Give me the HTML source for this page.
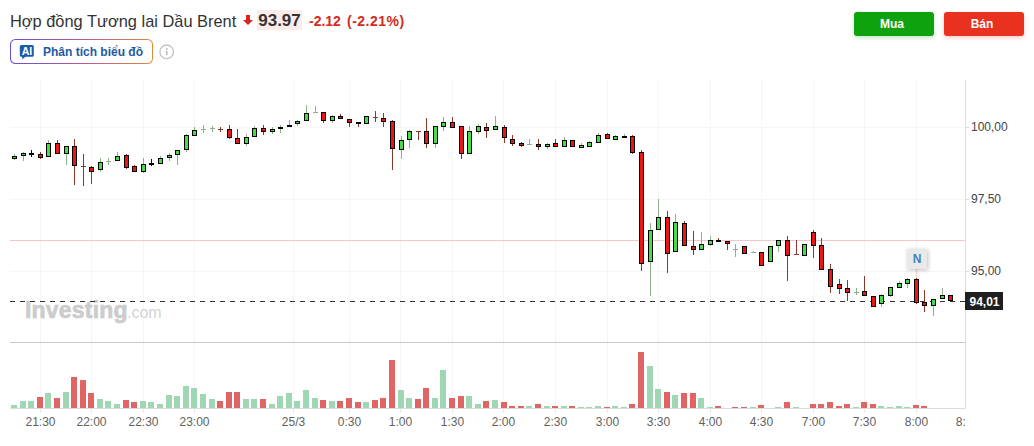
<!DOCTYPE html>
<html><head><meta charset="utf-8">
<style>
html,body{margin:0;padding:0;background:#fff;}
body{width:1034px;height:446px;position:relative;overflow:hidden;font-family:"Liberation Sans",sans-serif;}
.abs{position:absolute;white-space:nowrap;}
#title{left:10px;top:10px;font-size:16.4px;color:#333;line-height:22px;}
#arrow{left:243px;top:15px;}
#price{left:257px;top:10px;width:45px;height:20px;background:#fbebe9;font-weight:bold;font-size:17px;color:#333;line-height:21px;text-align:center;}
#chg{left:309px;top:11px;font-size:14px;color:#d22b20;line-height:20px;font-weight:bold;}
#pct{left:347px;top:11px;letter-spacing:0.5px;font-size:14px;color:#d22b20;line-height:20px;font-weight:bold;}
.btn{top:12px;width:80px;height:24px;border-radius:3px;color:#fff;font-weight:bold;font-size:12px;line-height:24px;text-align:center;box-sizing:border-box;padding-right:4px;}
#mua{left:854px;background:#0ea30e;box-shadow:0 2px 4px rgba(14,163,14,0.25);}
#ban{left:944px;background:#e8311e;box-shadow:0 2px 4px rgba(232,49,30,0.25);}
#ai{left:10px;top:39px;width:143px;height:25px;box-sizing:border-box;border-radius:5.5px;padding:1.2px;background:linear-gradient(90deg,#6152d4,#b85898 50%,#df8a3e);}
#ai .in{width:100%;height:100%;background:#fff;border-radius:4.5px;}
#aitxt{left:43px;top:44px;font-size:12px;font-weight:bold;color:#1d5aa3;line-height:16px;}
svg{position:absolute;left:0;top:0;}
</style></head><body>
<div id="title" class="abs">Hợp đồng Tương lai Dầu Brent</div>
<svg id="arrow" class="abs" width="10" height="10" viewBox="0 0 10 10" style="left:243px;top:15px;"><path d="M3 0H7V5H10L5 10L0 5H3Z" fill="#d8261c"/></svg>
<div id="price" class="abs">93.97</div>
<div id="chg" class="abs">-2.12</div>
<div id="pct" class="abs">(-2.21%)</div>
<div id="mua" class="abs btn">Mua</div>
<div id="ban" class="abs btn">Bán</div>
<div id="ai" class="abs"><div class="in"></div></div>
<svg class="abs" style="left:19px;top:45px" width="16" height="15" viewBox="0 0 16 15"><path d="M2.3 0H13.3Q14.8 0 14.8 1.5V10.3Q14.8 11.8 13.3 11.8H6.5L3.2 14.3V11.8H2.3Q0.8 11.8 0.8 10.3V1.5Q0.8 0 2.3 0Z" fill="#1b5ca8"/><text x="7.9" y="9.9" text-anchor="middle" font-family="Liberation Sans" font-weight="bold" font-size="10.5" fill="#fff">AI</text></svg>
<div id="aitxt" class="abs">Phân tích biểu đồ</div>
<svg class="abs" style="left:158px;top:43px" width="18" height="18" viewBox="0 0 18 18"><circle cx="8.7" cy="8.8" r="6.8" fill="none" stroke="#c4c4c4" stroke-width="1.3"/><rect x="7.9" y="7.9" width="1.7" height="4.3" fill="#bdbdbd"/><rect x="7.9" y="5.1" width="1.7" height="1.7" fill="#bdbdbd"/></svg>
<svg width="1034" height="446" viewBox="0 0 1034 446" style="left:0;top:0">
<line x1="40.5" y1="80" x2="40.5" y2="408" stroke="#f6f6f6" stroke-width="1"/>
<line x1="40.5" y1="408" x2="40.5" y2="413" stroke="#e6e6e6" stroke-width="1"/>
<line x1="91.5" y1="80" x2="91.5" y2="408" stroke="#f6f6f6" stroke-width="1"/>
<line x1="91.5" y1="408" x2="91.5" y2="413" stroke="#e6e6e6" stroke-width="1"/>
<line x1="143.5" y1="80" x2="143.5" y2="408" stroke="#f6f6f6" stroke-width="1"/>
<line x1="143.5" y1="408" x2="143.5" y2="413" stroke="#e6e6e6" stroke-width="1"/>
<line x1="194.5" y1="80" x2="194.5" y2="408" stroke="#f6f6f6" stroke-width="1"/>
<line x1="194.5" y1="408" x2="194.5" y2="413" stroke="#e6e6e6" stroke-width="1"/>
<line x1="293.5" y1="80" x2="293.5" y2="408" stroke="#f6f6f6" stroke-width="1"/>
<line x1="293.5" y1="408" x2="293.5" y2="413" stroke="#e6e6e6" stroke-width="1"/>
<line x1="349.5" y1="80" x2="349.5" y2="408" stroke="#f6f6f6" stroke-width="1"/>
<line x1="349.5" y1="408" x2="349.5" y2="413" stroke="#e6e6e6" stroke-width="1"/>
<line x1="400.5" y1="80" x2="400.5" y2="408" stroke="#f6f6f6" stroke-width="1"/>
<line x1="400.5" y1="408" x2="400.5" y2="413" stroke="#e6e6e6" stroke-width="1"/>
<line x1="452.5" y1="80" x2="452.5" y2="408" stroke="#f6f6f6" stroke-width="1"/>
<line x1="452.5" y1="408" x2="452.5" y2="413" stroke="#e6e6e6" stroke-width="1"/>
<line x1="503.5" y1="80" x2="503.5" y2="408" stroke="#f6f6f6" stroke-width="1"/>
<line x1="503.5" y1="408" x2="503.5" y2="413" stroke="#e6e6e6" stroke-width="1"/>
<line x1="555.5" y1="80" x2="555.5" y2="408" stroke="#f6f6f6" stroke-width="1"/>
<line x1="555.5" y1="408" x2="555.5" y2="413" stroke="#e6e6e6" stroke-width="1"/>
<line x1="607.5" y1="80" x2="607.5" y2="408" stroke="#f6f6f6" stroke-width="1"/>
<line x1="607.5" y1="408" x2="607.5" y2="413" stroke="#e6e6e6" stroke-width="1"/>
<line x1="658.5" y1="80" x2="658.5" y2="408" stroke="#f6f6f6" stroke-width="1"/>
<line x1="658.5" y1="408" x2="658.5" y2="413" stroke="#e6e6e6" stroke-width="1"/>
<line x1="710.5" y1="80" x2="710.5" y2="408" stroke="#f6f6f6" stroke-width="1"/>
<line x1="710.5" y1="408" x2="710.5" y2="413" stroke="#e6e6e6" stroke-width="1"/>
<line x1="761.5" y1="80" x2="761.5" y2="408" stroke="#f6f6f6" stroke-width="1"/>
<line x1="761.5" y1="408" x2="761.5" y2="413" stroke="#e6e6e6" stroke-width="1"/>
<line x1="813.5" y1="80" x2="813.5" y2="408" stroke="#f6f6f6" stroke-width="1"/>
<line x1="813.5" y1="408" x2="813.5" y2="413" stroke="#e6e6e6" stroke-width="1"/>
<line x1="864.5" y1="80" x2="864.5" y2="408" stroke="#f6f6f6" stroke-width="1"/>
<line x1="864.5" y1="408" x2="864.5" y2="413" stroke="#e6e6e6" stroke-width="1"/>
<line x1="916.5" y1="80" x2="916.5" y2="408" stroke="#f6f6f6" stroke-width="1"/>
<line x1="916.5" y1="408" x2="916.5" y2="413" stroke="#e6e6e6" stroke-width="1"/>
<line x1="10" y1="127.5" x2="965" y2="127.5" stroke="#f6f6f6" stroke-width="1"/>
<line x1="965" y1="127.5" x2="969" y2="127.5" stroke="#ddd" stroke-width="1"/>
<line x1="10" y1="199.5" x2="965" y2="199.5" stroke="#f6f6f6" stroke-width="1"/>
<line x1="965" y1="199.5" x2="969" y2="199.5" stroke="#ddd" stroke-width="1"/>
<line x1="10" y1="271.5" x2="965" y2="271.5" stroke="#f6f6f6" stroke-width="1"/>
<line x1="965" y1="271.5" x2="969" y2="271.5" stroke="#ddd" stroke-width="1"/>
<line x1="965.5" y1="80" x2="965.5" y2="408" stroke="#dcdcdc" stroke-width="1"/>
<line x1="10" y1="342.5" x2="966" y2="342.5" stroke="#c8c8c8" stroke-width="1"/>
<line x1="10" y1="408.5" x2="966" y2="408.5" stroke="#dcdcdc" stroke-width="1"/>
<line x1="10" y1="240.5" x2="965" y2="240.5" stroke="#f6c5ca" stroke-width="1"/>
<g font-family="Liberation Sans" font-weight="bold" font-size="23" fill="#cccccc" stroke="#cccccc" stroke-width="0.7"><text x="25" y="318" letter-spacing="0.2">Investing</text></g>
<text x="127" y="318" font-family="Liberation Sans" font-size="16" fill="#d4d4d4">.com</text>
<line x1="10" y1="301.5" x2="965" y2="301.5" stroke="#333" stroke-width="1" stroke-dasharray="5,5"/>
<rect x="11.0" y="405" width="6" height="3" fill="#9fd6b4"/>
<rect x="20.0" y="401" width="6" height="7" fill="#9fd6b4"/>
<rect x="28.0" y="401" width="6" height="7" fill="#9fd6b4"/>
<rect x="37.0" y="397" width="6" height="11" fill="#e06666"/>
<rect x="45.0" y="393" width="6" height="15" fill="#9fd6b4"/>
<rect x="54.0" y="398" width="6" height="10" fill="#e06666"/>
<rect x="63.0" y="392" width="6" height="16" fill="#9fd6b4"/>
<rect x="71.0" y="377" width="6" height="31" fill="#e06666"/>
<rect x="80.0" y="380" width="6" height="28" fill="#e06666"/>
<rect x="88.0" y="393" width="6" height="15" fill="#e06666"/>
<rect x="97.0" y="399" width="6" height="9" fill="#9fd6b4"/>
<rect x="105.0" y="401" width="6" height="7" fill="#9fd6b4"/>
<rect x="114.0" y="404" width="6" height="4" fill="#9fd6b4"/>
<rect x="123.0" y="400" width="6" height="8" fill="#e06666"/>
<rect x="131.0" y="402" width="6" height="6" fill="#e06666"/>
<rect x="140.0" y="401" width="6" height="7" fill="#9fd6b4"/>
<rect x="148.0" y="402" width="6" height="6" fill="#9fd6b4"/>
<rect x="157.0" y="404" width="6" height="4" fill="#9fd6b4"/>
<rect x="166.0" y="395" width="6" height="13" fill="#9fd6b4"/>
<rect x="174.0" y="396" width="6" height="12" fill="#9fd6b4"/>
<rect x="183.0" y="386" width="6" height="22" fill="#9fd6b4"/>
<rect x="191.0" y="388" width="6" height="20" fill="#9fd6b4"/>
<rect x="200.0" y="394" width="6" height="14" fill="#9fd6b4"/>
<rect x="209.0" y="399" width="6" height="9" fill="#9fd6b4"/>
<rect x="217.0" y="401" width="6" height="7" fill="#e06666"/>
<rect x="226.0" y="392" width="6" height="16" fill="#e06666"/>
<rect x="234.0" y="392" width="6" height="16" fill="#e06666"/>
<rect x="243.0" y="399" width="6" height="9" fill="#9fd6b4"/>
<rect x="251.0" y="399" width="6" height="9" fill="#9fd6b4"/>
<rect x="260.0" y="399" width="6" height="9" fill="#e06666"/>
<rect x="269.0" y="404" width="6" height="4" fill="#9fd6b4"/>
<rect x="277.0" y="396" width="6" height="12" fill="#9fd6b4"/>
<rect x="286.0" y="393" width="6" height="15" fill="#9fd6b4"/>
<rect x="294.0" y="401" width="6" height="7" fill="#9fd6b4"/>
<rect x="303.0" y="390" width="6" height="18" fill="#9fd6b4"/>
<rect x="312.0" y="398" width="6" height="10" fill="#9fd6b4"/>
<rect x="320.0" y="400" width="6" height="8" fill="#e06666"/>
<rect x="329.0" y="401" width="6" height="7" fill="#9fd6b4"/>
<rect x="337.0" y="401" width="6" height="7" fill="#e06666"/>
<rect x="346.0" y="398" width="6" height="10" fill="#e06666"/>
<rect x="355.0" y="402" width="6" height="6" fill="#e06666"/>
<rect x="363.0" y="402" width="6" height="6" fill="#9fd6b4"/>
<rect x="372.0" y="400" width="6" height="8" fill="#e06666"/>
<rect x="380.0" y="398" width="6" height="10" fill="#e06666"/>
<rect x="389.0" y="360" width="6" height="48" fill="#e06666"/>
<rect x="398.0" y="390" width="6" height="18" fill="#9fd6b4"/>
<rect x="406.0" y="398" width="6" height="10" fill="#9fd6b4"/>
<rect x="415.0" y="399" width="6" height="9" fill="#e06666"/>
<rect x="423.0" y="388" width="6" height="20" fill="#e06666"/>
<rect x="432.0" y="398" width="6" height="10" fill="#9fd6b4"/>
<rect x="440.0" y="370" width="6" height="38" fill="#9fd6b4"/>
<rect x="449.0" y="398" width="6" height="10" fill="#e06666"/>
<rect x="458.0" y="396" width="6" height="12" fill="#e06666"/>
<rect x="466.0" y="396" width="6" height="12" fill="#9fd6b4"/>
<rect x="475.0" y="404" width="6" height="4" fill="#9fd6b4"/>
<rect x="483.0" y="401" width="6" height="7" fill="#e06666"/>
<rect x="492.0" y="400" width="6" height="8" fill="#9fd6b4"/>
<rect x="501.0" y="402" width="6" height="6" fill="#e06666"/>
<rect x="509.0" y="406" width="6" height="2" fill="#e06666"/>
<rect x="518.0" y="406" width="6" height="2" fill="#e06666"/>
<rect x="526.0" y="406" width="6" height="2" fill="#9fd6b4"/>
<rect x="535.0" y="404" width="6" height="4" fill="#e06666"/>
<rect x="544.0" y="406" width="6" height="2" fill="#9fd6b4"/>
<rect x="552.0" y="406" width="6" height="2" fill="#e06666"/>
<rect x="561.0" y="406" width="6" height="2" fill="#9fd6b4"/>
<rect x="569.0" y="406" width="6" height="2" fill="#e06666"/>
<rect x="578.0" y="407" width="6" height="1" fill="#9fd6b4"/>
<rect x="586.0" y="407" width="6" height="1" fill="#9fd6b4"/>
<rect x="595.0" y="406" width="6" height="2" fill="#9fd6b4"/>
<rect x="604.0" y="407" width="6" height="1" fill="#e06666"/>
<rect x="612.0" y="406" width="6" height="2" fill="#9fd6b4"/>
<rect x="621.0" y="407" width="6" height="1" fill="#9fd6b4"/>
<rect x="629.0" y="404" width="6" height="4" fill="#e06666"/>
<rect x="638.0" y="352" width="6" height="56" fill="#e06666"/>
<rect x="647.0" y="366" width="6" height="42" fill="#9fd6b4"/>
<rect x="655.0" y="389" width="6" height="19" fill="#9fd6b4"/>
<rect x="664.0" y="392" width="6" height="16" fill="#e06666"/>
<rect x="672.0" y="395" width="6" height="13" fill="#9fd6b4"/>
<rect x="681.0" y="393" width="6" height="15" fill="#e06666"/>
<rect x="690.0" y="393" width="6" height="15" fill="#e06666"/>
<rect x="698.0" y="398" width="6" height="10" fill="#9fd6b4"/>
<rect x="707.0" y="407" width="6" height="1" fill="#9fd6b4"/>
<rect x="715.0" y="406" width="6" height="2" fill="#e06666"/>
<rect x="732.0" y="407" width="6" height="1" fill="#e06666"/>
<rect x="741.0" y="407" width="6" height="1" fill="#e06666"/>
<rect x="750.0" y="407" width="6" height="1" fill="#9fd6b4"/>
<rect x="758.0" y="405" width="6" height="3" fill="#e06666"/>
<rect x="775.0" y="407" width="6" height="1" fill="#9fd6b4"/>
<rect x="784.0" y="402" width="6" height="6" fill="#e06666"/>
<rect x="793.0" y="407" width="6" height="1" fill="#9fd6b4"/>
<rect x="810.0" y="404" width="6" height="4" fill="#e06666"/>
<rect x="818.0" y="404" width="6" height="4" fill="#e06666"/>
<rect x="827.0" y="402" width="6" height="6" fill="#e06666"/>
<rect x="836.0" y="406" width="6" height="2" fill="#e06666"/>
<rect x="844.0" y="404" width="6" height="4" fill="#e06666"/>
<rect x="853.0" y="407" width="6" height="1" fill="#9fd6b4"/>
<rect x="861.0" y="402" width="6" height="6" fill="#e06666"/>
<rect x="870.0" y="404" width="6" height="4" fill="#e06666"/>
<rect x="878.0" y="406" width="6" height="2" fill="#9fd6b4"/>
<rect x="887.0" y="407" width="6" height="1" fill="#9fd6b4"/>
<rect x="896.0" y="406" width="6" height="2" fill="#9fd6b4"/>
<rect x="904.0" y="407" width="6" height="1" fill="#9fd6b4"/>
<rect x="913.0" y="405" width="6" height="3" fill="#e06666"/>
<rect x="921.0" y="406" width="6" height="2" fill="#e06666"/>
<line x1="14.5" y1="154" x2="14.5" y2="160" stroke="#8fb08a" stroke-width="1"/>
<rect x="12.5" y="156.5" width="4" height="2" fill="#44dd44" stroke="#000" stroke-width="1"/>
<line x1="23.5" y1="152" x2="23.5" y2="161" stroke="#8fb08a" stroke-width="1"/>
<rect x="21.5" y="153.5" width="4" height="2" fill="#44dd44" stroke="#000" stroke-width="1"/>
<line x1="31.5" y1="150" x2="31.5" y2="157" stroke="#111" stroke-width="1"/>
<rect x="29.0" y="153" width="5" height="2" fill="#000"/>
<line x1="40.5" y1="152" x2="40.5" y2="159" stroke="#8b3a2a" stroke-width="1"/>
<rect x="38.5" y="154.5" width="4" height="3" fill="#ee1414" stroke="#000" stroke-width="1"/>
<line x1="48.5" y1="140" x2="48.5" y2="157" stroke="#8fb08a" stroke-width="1"/>
<rect x="46.5" y="143.5" width="4" height="13" fill="#44dd44" stroke="#000" stroke-width="1"/>
<line x1="57.5" y1="140" x2="57.5" y2="154" stroke="#8b3a2a" stroke-width="1"/>
<rect x="55.5" y="143.5" width="4" height="10" fill="#ee1414" stroke="#000" stroke-width="1"/>
<line x1="66.5" y1="146" x2="66.5" y2="165" stroke="#8fb08a" stroke-width="1"/>
<rect x="64.5" y="146.5" width="4" height="7" fill="#44dd44" stroke="#000" stroke-width="1"/>
<line x1="74.5" y1="139" x2="74.5" y2="185" stroke="#8b3a2a" stroke-width="1"/>
<rect x="72.5" y="146.5" width="4" height="19" fill="#ee1414" stroke="#000" stroke-width="1"/>
<line x1="83.5" y1="154" x2="83.5" y2="186" stroke="#8b3a2a" stroke-width="1"/>
<line x1="81.0" y1="166.5" x2="86.0" y2="166.5" stroke="#8b3a2a" stroke-width="1"/>
<line x1="91.5" y1="166" x2="91.5" y2="184" stroke="#8b3a2a" stroke-width="1"/>
<rect x="89.5" y="167.5" width="4" height="4" fill="#ee1414" stroke="#000" stroke-width="1"/>
<line x1="100.5" y1="158" x2="100.5" y2="172" stroke="#8fb08a" stroke-width="1"/>
<rect x="98.5" y="162.5" width="4" height="7" fill="#44dd44" stroke="#000" stroke-width="1"/>
<line x1="108.5" y1="158" x2="108.5" y2="165" stroke="#8fb08a" stroke-width="1"/>
<line x1="106.0" y1="161.5" x2="111.0" y2="161.5" stroke="#8fb08a" stroke-width="1"/>
<line x1="117.5" y1="152" x2="117.5" y2="161" stroke="#8fb08a" stroke-width="1"/>
<rect x="115.5" y="156.5" width="4" height="4" fill="#44dd44" stroke="#000" stroke-width="1"/>
<line x1="126.5" y1="154" x2="126.5" y2="169" stroke="#8b3a2a" stroke-width="1"/>
<rect x="124.5" y="155.5" width="4" height="12" fill="#ee1414" stroke="#000" stroke-width="1"/>
<line x1="134.5" y1="165" x2="134.5" y2="172" stroke="#8b3a2a" stroke-width="1"/>
<rect x="132.5" y="166.5" width="4" height="5" fill="#ee1414" stroke="#000" stroke-width="1"/>
<line x1="143.5" y1="158" x2="143.5" y2="173" stroke="#8fb08a" stroke-width="1"/>
<rect x="141.5" y="164.5" width="4" height="7" fill="#44dd44" stroke="#000" stroke-width="1"/>
<line x1="151.5" y1="159" x2="151.5" y2="166" stroke="#111" stroke-width="1"/>
<rect x="149.0" y="163" width="5" height="2" fill="#000"/>
<line x1="160.5" y1="156" x2="160.5" y2="164" stroke="#8fb08a" stroke-width="1"/>
<rect x="158.5" y="158.5" width="4" height="5" fill="#44dd44" stroke="#000" stroke-width="1"/>
<line x1="169.5" y1="153" x2="169.5" y2="161" stroke="#8fb08a" stroke-width="1"/>
<rect x="167.5" y="155.5" width="4" height="2" fill="#44dd44" stroke="#000" stroke-width="1"/>
<line x1="177.5" y1="150" x2="177.5" y2="165" stroke="#8fb08a" stroke-width="1"/>
<rect x="175.5" y="150.5" width="4" height="4" fill="#44dd44" stroke="#000" stroke-width="1"/>
<line x1="186.5" y1="134" x2="186.5" y2="152" stroke="#8fb08a" stroke-width="1"/>
<rect x="184.5" y="135.5" width="4" height="14" fill="#44dd44" stroke="#000" stroke-width="1"/>
<line x1="194.5" y1="127" x2="194.5" y2="136" stroke="#8fb08a" stroke-width="1"/>
<rect x="192.5" y="130.5" width="4" height="5" fill="#44dd44" stroke="#000" stroke-width="1"/>
<line x1="203.5" y1="125" x2="203.5" y2="133" stroke="#8fb08a" stroke-width="1"/>
<line x1="201.0" y1="129.5" x2="206.0" y2="129.5" stroke="#8fb08a" stroke-width="1"/>
<line x1="212.5" y1="126" x2="212.5" y2="132" stroke="#8fb08a" stroke-width="1"/>
<line x1="210.0" y1="128.5" x2="215.0" y2="128.5" stroke="#8fb08a" stroke-width="1"/>
<line x1="220.5" y1="127" x2="220.5" y2="132" stroke="#8b3a2a" stroke-width="1"/>
<line x1="218.0" y1="129.5" x2="223.0" y2="129.5" stroke="#8b3a2a" stroke-width="1"/>
<line x1="229.5" y1="125" x2="229.5" y2="139" stroke="#8b3a2a" stroke-width="1"/>
<rect x="227.5" y="129.5" width="4" height="8" fill="#ee1414" stroke="#000" stroke-width="1"/>
<line x1="237.5" y1="129" x2="237.5" y2="144" stroke="#8b3a2a" stroke-width="1"/>
<rect x="235.5" y="138.5" width="4" height="5" fill="#ee1414" stroke="#000" stroke-width="1"/>
<line x1="246.5" y1="134" x2="246.5" y2="146" stroke="#8fb08a" stroke-width="1"/>
<rect x="244.5" y="137.5" width="4" height="6" fill="#44dd44" stroke="#000" stroke-width="1"/>
<line x1="254.5" y1="126" x2="254.5" y2="137" stroke="#8fb08a" stroke-width="1"/>
<rect x="252.5" y="128.5" width="4" height="8" fill="#44dd44" stroke="#000" stroke-width="1"/>
<line x1="263.5" y1="125" x2="263.5" y2="135" stroke="#8b3a2a" stroke-width="1"/>
<rect x="261.5" y="128.5" width="4" height="3" fill="#ee1414" stroke="#000" stroke-width="1"/>
<line x1="272.5" y1="127" x2="272.5" y2="134" stroke="#8fb08a" stroke-width="1"/>
<rect x="270.5" y="129.5" width="4" height="2" fill="#44dd44" stroke="#000" stroke-width="1"/>
<line x1="280.5" y1="125" x2="280.5" y2="133" stroke="#8fb08a" stroke-width="1"/>
<rect x="278.0" y="127" width="5" height="2" fill="#000"/>
<line x1="289.5" y1="120" x2="289.5" y2="127" stroke="#8fb08a" stroke-width="1"/>
<rect x="287.0" y="125" width="5" height="2" fill="#000"/>
<line x1="297.5" y1="120" x2="297.5" y2="126" stroke="#8fb08a" stroke-width="1"/>
<rect x="295.5" y="121.5" width="4" height="2" fill="#44dd44" stroke="#000" stroke-width="1"/>
<line x1="306.5" y1="105" x2="306.5" y2="121" stroke="#8fb08a" stroke-width="1"/>
<rect x="304.5" y="113.5" width="4" height="7" fill="#44dd44" stroke="#000" stroke-width="1"/>
<line x1="315.5" y1="106" x2="315.5" y2="113" stroke="#8fb08a" stroke-width="1"/>
<line x1="313.0" y1="112.5" x2="318.0" y2="112.5" stroke="#8fb08a" stroke-width="1"/>
<line x1="323.5" y1="112" x2="323.5" y2="123" stroke="#8b3a2a" stroke-width="1"/>
<rect x="321.5" y="112.5" width="4" height="8" fill="#ee1414" stroke="#000" stroke-width="1"/>
<line x1="332.5" y1="115" x2="332.5" y2="123" stroke="#8fb08a" stroke-width="1"/>
<rect x="330.5" y="116.5" width="4" height="4" fill="#44dd44" stroke="#000" stroke-width="1"/>
<line x1="340.5" y1="114" x2="340.5" y2="119" stroke="#8b3a2a" stroke-width="1"/>
<rect x="338.5" y="116.5" width="4" height="2" fill="#ee1414" stroke="#000" stroke-width="1"/>
<line x1="349.5" y1="119" x2="349.5" y2="127" stroke="#8b3a2a" stroke-width="1"/>
<rect x="347.5" y="119.5" width="4" height="3" fill="#ee1414" stroke="#000" stroke-width="1"/>
<line x1="358.5" y1="123" x2="358.5" y2="127" stroke="#8b3a2a" stroke-width="1"/>
<rect x="356.0" y="122" width="5" height="2" fill="#000"/>
<line x1="366.5" y1="116" x2="366.5" y2="124" stroke="#8fb08a" stroke-width="1"/>
<rect x="364.5" y="116.5" width="4" height="7" fill="#44dd44" stroke="#000" stroke-width="1"/>
<line x1="375.5" y1="111" x2="375.5" y2="122" stroke="#8b3a2a" stroke-width="1"/>
<line x1="373.0" y1="117.5" x2="378.0" y2="117.5" stroke="#8b3a2a" stroke-width="1"/>
<line x1="383.5" y1="113" x2="383.5" y2="127" stroke="#8b3a2a" stroke-width="1"/>
<rect x="381.5" y="118.5" width="4" height="3" fill="#ee1414" stroke="#000" stroke-width="1"/>
<line x1="392.5" y1="120" x2="392.5" y2="170" stroke="#8b3a2a" stroke-width="1"/>
<rect x="390.5" y="121.5" width="4" height="27" fill="#ee1414" stroke="#000" stroke-width="1"/>
<line x1="401.5" y1="136" x2="401.5" y2="159" stroke="#8fb08a" stroke-width="1"/>
<rect x="399.5" y="140.5" width="4" height="9" fill="#44dd44" stroke="#000" stroke-width="1"/>
<line x1="409.5" y1="130" x2="409.5" y2="148" stroke="#8fb08a" stroke-width="1"/>
<rect x="407.5" y="131.5" width="4" height="8" fill="#44dd44" stroke="#000" stroke-width="1"/>
<line x1="418.5" y1="131" x2="418.5" y2="140" stroke="#8b3a2a" stroke-width="1"/>
<line x1="416.0" y1="131.5" x2="421.0" y2="131.5" stroke="#8b3a2a" stroke-width="1"/>
<line x1="426.5" y1="118" x2="426.5" y2="148" stroke="#8b3a2a" stroke-width="1"/>
<rect x="424.5" y="131.5" width="4" height="12" fill="#ee1414" stroke="#000" stroke-width="1"/>
<line x1="435.5" y1="126" x2="435.5" y2="148" stroke="#8fb08a" stroke-width="1"/>
<rect x="433.5" y="126.5" width="4" height="17" fill="#44dd44" stroke="#000" stroke-width="1"/>
<line x1="443.5" y1="117" x2="443.5" y2="131" stroke="#8fb08a" stroke-width="1"/>
<rect x="441.5" y="122.5" width="4" height="4" fill="#44dd44" stroke="#000" stroke-width="1"/>
<line x1="452.5" y1="117" x2="452.5" y2="128" stroke="#8b3a2a" stroke-width="1"/>
<rect x="450.5" y="122.5" width="4" height="5" fill="#ee1414" stroke="#000" stroke-width="1"/>
<line x1="461.5" y1="126" x2="461.5" y2="159" stroke="#8b3a2a" stroke-width="1"/>
<rect x="459.5" y="126.5" width="4" height="27" fill="#ee1414" stroke="#000" stroke-width="1"/>
<line x1="469.5" y1="126" x2="469.5" y2="154" stroke="#8fb08a" stroke-width="1"/>
<rect x="467.5" y="131.5" width="4" height="22" fill="#44dd44" stroke="#000" stroke-width="1"/>
<line x1="478.5" y1="124" x2="478.5" y2="134" stroke="#8fb08a" stroke-width="1"/>
<rect x="476.5" y="126.5" width="4" height="5" fill="#44dd44" stroke="#000" stroke-width="1"/>
<line x1="486.5" y1="123" x2="486.5" y2="138" stroke="#8b3a2a" stroke-width="1"/>
<rect x="484.5" y="127.5" width="4" height="3" fill="#ee1414" stroke="#000" stroke-width="1"/>
<line x1="495.5" y1="116" x2="495.5" y2="130" stroke="#8fb08a" stroke-width="1"/>
<rect x="493.5" y="126.5" width="4" height="3" fill="#44dd44" stroke="#000" stroke-width="1"/>
<line x1="504.5" y1="125" x2="504.5" y2="143" stroke="#8b3a2a" stroke-width="1"/>
<rect x="502.5" y="127.5" width="4" height="10" fill="#ee1414" stroke="#000" stroke-width="1"/>
<line x1="512.5" y1="135" x2="512.5" y2="146" stroke="#8b3a2a" stroke-width="1"/>
<rect x="510.5" y="139.5" width="4" height="4" fill="#ee1414" stroke="#000" stroke-width="1"/>
<line x1="521.5" y1="142" x2="521.5" y2="147" stroke="#8b3a2a" stroke-width="1"/>
<rect x="519.5" y="143.5" width="4" height="2" fill="#ee1414" stroke="#000" stroke-width="1"/>
<line x1="529.5" y1="139" x2="529.5" y2="144" stroke="#8fb08a" stroke-width="1"/>
<line x1="527.0" y1="144.5" x2="532.0" y2="144.5" stroke="#8fb08a" stroke-width="1"/>
<line x1="538.5" y1="139" x2="538.5" y2="150" stroke="#8b3a2a" stroke-width="1"/>
<rect x="536.5" y="144.5" width="4" height="2" fill="#ee1414" stroke="#000" stroke-width="1"/>
<line x1="547.5" y1="143" x2="547.5" y2="149" stroke="#8fb08a" stroke-width="1"/>
<rect x="545.5" y="144.5" width="4" height="2" fill="#44dd44" stroke="#000" stroke-width="1"/>
<line x1="555.5" y1="139" x2="555.5" y2="147" stroke="#8b3a2a" stroke-width="1"/>
<rect x="553.5" y="143.5" width="4" height="3" fill="#ee1414" stroke="#000" stroke-width="1"/>
<line x1="564.5" y1="137" x2="564.5" y2="147" stroke="#8fb08a" stroke-width="1"/>
<rect x="562.5" y="140.5" width="4" height="6" fill="#44dd44" stroke="#000" stroke-width="1"/>
<line x1="572.5" y1="140" x2="572.5" y2="147" stroke="#8b3a2a" stroke-width="1"/>
<rect x="570.5" y="140.5" width="4" height="6" fill="#ee1414" stroke="#000" stroke-width="1"/>
<line x1="581.5" y1="143" x2="581.5" y2="148" stroke="#8fb08a" stroke-width="1"/>
<rect x="579.5" y="145.5" width="4" height="2" fill="#44dd44" stroke="#000" stroke-width="1"/>
<line x1="589.5" y1="141" x2="589.5" y2="147" stroke="#8fb08a" stroke-width="1"/>
<rect x="587.5" y="142.5" width="4" height="4" fill="#44dd44" stroke="#000" stroke-width="1"/>
<line x1="598.5" y1="133" x2="598.5" y2="143" stroke="#8fb08a" stroke-width="1"/>
<rect x="596.5" y="135.5" width="4" height="7" fill="#44dd44" stroke="#000" stroke-width="1"/>
<line x1="607.5" y1="133" x2="607.5" y2="139" stroke="#8b3a2a" stroke-width="1"/>
<rect x="605.5" y="134.5" width="4" height="4" fill="#ee1414" stroke="#000" stroke-width="1"/>
<line x1="615.5" y1="135" x2="615.5" y2="140" stroke="#8fb08a" stroke-width="1"/>
<rect x="613.5" y="136.5" width="4" height="3" fill="#44dd44" stroke="#000" stroke-width="1"/>
<line x1="624.5" y1="134" x2="624.5" y2="137" stroke="#8fb08a" stroke-width="1"/>
<rect x="622.0" y="136" width="5" height="2" fill="#000"/>
<line x1="632.5" y1="135" x2="632.5" y2="154" stroke="#8b3a2a" stroke-width="1"/>
<rect x="630.5" y="136.5" width="4" height="16" fill="#ee1414" stroke="#000" stroke-width="1"/>
<line x1="641.5" y1="150" x2="641.5" y2="271" stroke="#8b3a2a" stroke-width="1"/>
<rect x="639.5" y="152.5" width="4" height="111" fill="#ee1414" stroke="#000" stroke-width="1"/>
<line x1="650.5" y1="223" x2="650.5" y2="296" stroke="#8fb08a" stroke-width="1"/>
<rect x="648.5" y="230.5" width="4" height="31" fill="#44dd44" stroke="#000" stroke-width="1"/>
<line x1="658.5" y1="199" x2="658.5" y2="230" stroke="#8fb08a" stroke-width="1"/>
<rect x="656.5" y="217.5" width="4" height="12" fill="#44dd44" stroke="#000" stroke-width="1"/>
<line x1="667.5" y1="211" x2="667.5" y2="273" stroke="#8b3a2a" stroke-width="1"/>
<rect x="665.5" y="217.5" width="4" height="36" fill="#ee1414" stroke="#000" stroke-width="1"/>
<line x1="675.5" y1="214" x2="675.5" y2="252" stroke="#8fb08a" stroke-width="1"/>
<rect x="673.5" y="222.5" width="4" height="29" fill="#44dd44" stroke="#000" stroke-width="1"/>
<line x1="684.5" y1="221" x2="684.5" y2="246" stroke="#8b3a2a" stroke-width="1"/>
<rect x="682.5" y="223.5" width="4" height="22" fill="#ee1414" stroke="#000" stroke-width="1"/>
<line x1="693.5" y1="231" x2="693.5" y2="255" stroke="#8b3a2a" stroke-width="1"/>
<rect x="691.5" y="246.5" width="4" height="3" fill="#ee1414" stroke="#000" stroke-width="1"/>
<line x1="701.5" y1="232" x2="701.5" y2="250" stroke="#8fb08a" stroke-width="1"/>
<rect x="699.5" y="244.5" width="4" height="5" fill="#44dd44" stroke="#000" stroke-width="1"/>
<line x1="710.5" y1="236" x2="710.5" y2="246" stroke="#8fb08a" stroke-width="1"/>
<rect x="708.5" y="240.5" width="4" height="4" fill="#44dd44" stroke="#000" stroke-width="1"/>
<line x1="718.5" y1="238" x2="718.5" y2="242" stroke="#8b3a2a" stroke-width="1"/>
<rect x="716.0" y="240" width="5" height="2" fill="#000"/>
<line x1="727.5" y1="241" x2="727.5" y2="250" stroke="#8b3a2a" stroke-width="1"/>
<rect x="725.5" y="241.5" width="4" height="2" fill="#ee1414" stroke="#000" stroke-width="1"/>
<line x1="735.5" y1="244" x2="735.5" y2="257" stroke="#8fb08a" stroke-width="1"/>
<line x1="733.0" y1="249.5" x2="738.0" y2="249.5" stroke="#8fb08a" stroke-width="1"/>
<line x1="744.5" y1="246" x2="744.5" y2="254" stroke="#8b3a2a" stroke-width="1"/>
<rect x="742.5" y="246.5" width="4" height="7" fill="#ee1414" stroke="#000" stroke-width="1"/>
<line x1="753.5" y1="251" x2="753.5" y2="253" stroke="#8fb08a" stroke-width="1"/>
<line x1="751.0" y1="252.5" x2="756.0" y2="252.5" stroke="#8fb08a" stroke-width="1"/>
<line x1="761.5" y1="252" x2="761.5" y2="266" stroke="#8b3a2a" stroke-width="1"/>
<rect x="759.5" y="252.5" width="4" height="13" fill="#ee1414" stroke="#000" stroke-width="1"/>
<line x1="770.5" y1="246" x2="770.5" y2="262" stroke="#8fb08a" stroke-width="1"/>
<rect x="768.5" y="246.5" width="4" height="15" fill="#44dd44" stroke="#000" stroke-width="1"/>
<line x1="778.5" y1="240" x2="778.5" y2="252" stroke="#8fb08a" stroke-width="1"/>
<rect x="776.5" y="240.5" width="4" height="5" fill="#44dd44" stroke="#000" stroke-width="1"/>
<line x1="787.5" y1="236" x2="787.5" y2="281" stroke="#8b3a2a" stroke-width="1"/>
<rect x="785.5" y="240.5" width="4" height="15" fill="#ee1414" stroke="#000" stroke-width="1"/>
<line x1="796.5" y1="240" x2="796.5" y2="255" stroke="#8b3a2a" stroke-width="1"/>
<line x1="794.0" y1="254.5" x2="799.0" y2="254.5" stroke="#8b3a2a" stroke-width="1"/>
<line x1="804.5" y1="244" x2="804.5" y2="256" stroke="#8fb08a" stroke-width="1"/>
<rect x="802.5" y="244.5" width="4" height="11" fill="#44dd44" stroke="#000" stroke-width="1"/>
<line x1="813.5" y1="230" x2="813.5" y2="258" stroke="#8b3a2a" stroke-width="1"/>
<rect x="811.5" y="232.5" width="4" height="13" fill="#ee1414" stroke="#000" stroke-width="1"/>
<line x1="821.5" y1="238" x2="821.5" y2="270" stroke="#8b3a2a" stroke-width="1"/>
<rect x="819.5" y="245.5" width="4" height="24" fill="#ee1414" stroke="#000" stroke-width="1"/>
<line x1="830.5" y1="264" x2="830.5" y2="293" stroke="#8b3a2a" stroke-width="1"/>
<rect x="828.5" y="269.5" width="4" height="17" fill="#ee1414" stroke="#000" stroke-width="1"/>
<line x1="839.5" y1="279" x2="839.5" y2="294" stroke="#8b3a2a" stroke-width="1"/>
<rect x="837.5" y="284.5" width="4" height="4" fill="#ee1414" stroke="#000" stroke-width="1"/>
<line x1="847.5" y1="280" x2="847.5" y2="301" stroke="#8b3a2a" stroke-width="1"/>
<rect x="845.5" y="288.5" width="4" height="4" fill="#ee1414" stroke="#000" stroke-width="1"/>
<line x1="856.5" y1="288" x2="856.5" y2="295" stroke="#8fb08a" stroke-width="1"/>
<line x1="854.0" y1="292.5" x2="859.0" y2="292.5" stroke="#8fb08a" stroke-width="1"/>
<line x1="864.5" y1="276" x2="864.5" y2="296" stroke="#8b3a2a" stroke-width="1"/>
<rect x="862.5" y="291.5" width="4" height="4" fill="#ee1414" stroke="#000" stroke-width="1"/>
<line x1="873.5" y1="296" x2="873.5" y2="307" stroke="#8b3a2a" stroke-width="1"/>
<rect x="871.5" y="296.5" width="4" height="10" fill="#ee1414" stroke="#000" stroke-width="1"/>
<line x1="881.5" y1="294" x2="881.5" y2="307" stroke="#8fb08a" stroke-width="1"/>
<rect x="879.5" y="295.5" width="4" height="8" fill="#44dd44" stroke="#000" stroke-width="1"/>
<line x1="890.5" y1="287" x2="890.5" y2="297" stroke="#8fb08a" stroke-width="1"/>
<rect x="888.5" y="287.5" width="4" height="8" fill="#44dd44" stroke="#000" stroke-width="1"/>
<line x1="899.5" y1="281" x2="899.5" y2="288" stroke="#8fb08a" stroke-width="1"/>
<rect x="897.5" y="283.5" width="4" height="4" fill="#44dd44" stroke="#000" stroke-width="1"/>
<line x1="907.5" y1="278" x2="907.5" y2="288" stroke="#8fb08a" stroke-width="1"/>
<rect x="905.5" y="279.5" width="4" height="4" fill="#44dd44" stroke="#000" stroke-width="1"/>
<line x1="916.5" y1="278" x2="916.5" y2="304" stroke="#8b3a2a" stroke-width="1"/>
<rect x="914.5" y="279.5" width="4" height="23" fill="#ee1414" stroke="#000" stroke-width="1"/>
<line x1="924.5" y1="290" x2="924.5" y2="312" stroke="#8b3a2a" stroke-width="1"/>
<rect x="922.5" y="302.5" width="4" height="3" fill="#ee1414" stroke="#000" stroke-width="1"/>
<line x1="933.5" y1="299" x2="933.5" y2="316" stroke="#8fb08a" stroke-width="1"/>
<rect x="931.5" y="299.5" width="4" height="6" fill="#44dd44" stroke="#000" stroke-width="1"/>
<line x1="942.5" y1="288" x2="942.5" y2="299" stroke="#8fb08a" stroke-width="1"/>
<rect x="940.5" y="295.5" width="4" height="3" fill="#44dd44" stroke="#000" stroke-width="1"/>
<line x1="950.5" y1="295" x2="950.5" y2="301" stroke="#8b3a2a" stroke-width="1"/>
<rect x="948.5" y="295.5" width="4" height="5" fill="#ee1414" stroke="#000" stroke-width="1"/>
<line x1="916.5" y1="269" x2="916.5" y2="278" stroke="#f5d3d3" stroke-width="1.5"/>
<rect x="907" y="249" width="20" height="20" fill="#e9e9e9" style="filter:drop-shadow(1px 1px 2px rgba(0,0,0,0.25))"/>
<text x="917" y="262.8" text-anchor="middle" font-family="Liberation Sans" font-weight="bold" font-size="12" fill="#3d82c8">N</text>
<g font-family="Liberation Sans" font-size="12" fill="#444">
<text x="971" y="131">100,00</text>
<text x="971" y="203">97,50</text>
<text x="971" y="275">95,00</text>
</g>
<rect x="965" y="292" width="38" height="18" fill="#1f1f1f"/>
<text x="984.5" y="305.5" text-anchor="middle" font-family="Liberation Sans" font-weight="bold" font-size="12" fill="#fff">94,01</text>
<svg x="0" y="0" width="965" height="446"><g font-family="Liberation Sans" font-size="12" fill="#5f5f5f">
<text x="40.5" y="426" text-anchor="middle">21:30</text>
<text x="91.5" y="426" text-anchor="middle">22:00</text>
<text x="143.5" y="426" text-anchor="middle">22:30</text>
<text x="194.5" y="426" text-anchor="middle">23:00</text>
<text x="293.5" y="426" text-anchor="middle">25/3</text>
<text x="349.5" y="426" text-anchor="middle">0:30</text>
<text x="400.5" y="426" text-anchor="middle">1:00</text>
<text x="452.5" y="426" text-anchor="middle">1:30</text>
<text x="503.5" y="426" text-anchor="middle">2:00</text>
<text x="555.5" y="426" text-anchor="middle">2:30</text>
<text x="607.5" y="426" text-anchor="middle">3:00</text>
<text x="658.5" y="426" text-anchor="middle">3:30</text>
<text x="710.5" y="426" text-anchor="middle">4:00</text>
<text x="761.5" y="426" text-anchor="middle">4:30</text>
<text x="813.5" y="426" text-anchor="middle">7:00</text>
<text x="864.5" y="426" text-anchor="middle">7:30</text>
<text x="916.5" y="426" text-anchor="middle">8:00</text>
<text x="967.5" y="426" text-anchor="middle">8:30</text>
</g></svg>
</svg>
</body></html>
